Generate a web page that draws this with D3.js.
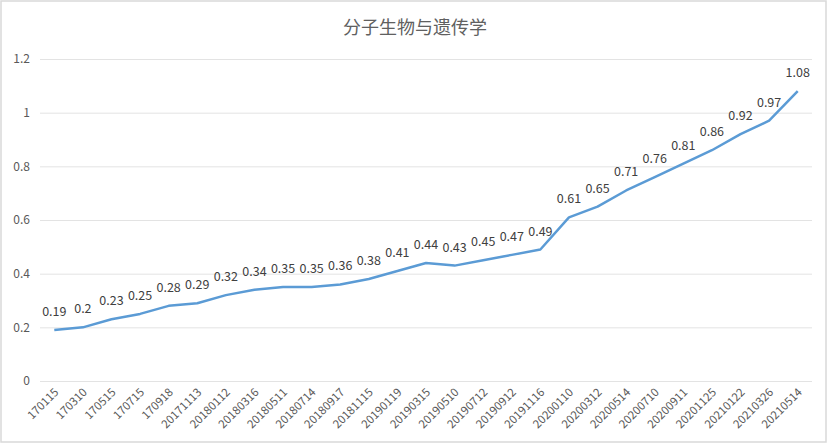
<!DOCTYPE html>
<html><head><meta charset="utf-8">
<script src="https://cdn.jsdelivr.net/npm/d3@7"></script>
<style>body{margin:0;background:#fff}svg{display:block}text{font-family:"Noto Sans CJK SC","Liberation Sans",sans-serif}</style>
</head><body>
<svg id="c" width="828" height="443"></svg>
<script>
const categories = ["170115","170310","170515","170715","170918","20171113","20180112","20180316","20180511","20180714","20180917","20181115","20190119","20190315","20190510","20190712","20190912","20191116","20200110","20200312","20200514","20200710","20200911","20201125","20210122","20210326","20210514"];
const values = [0.19,0.2,0.23,0.25,0.28,0.29,0.32,0.34,0.35,0.35,0.36,0.38,0.41,0.44,0.43,0.45,0.47,0.49,0.61,0.65,0.71,0.76,0.81,0.86,0.92,0.97,1.08];
const yTicks = [0,0.2,0.4,0.6,0.8,1,1.2];
const title = "分子生物与遗传学";

const svg = d3.select("#c");
svg.append("rect").attr("x",1).attr("y",1).attr("width",825).attr("height",441).attr("fill","#fff").attr("stroke","#d9d9d9").attr("stroke-width",1.5);

const x = d3.scaleBand().domain(categories).range([40,812]);
const y = d3.scaleLinear().domain([0,1.2]).range([381,59]);

svg.append("text").attr("x",415).attr("y",34).attr("text-anchor","middle").attr("font-size",18).attr("fill","#606060").text(title);

const yAxis = svg.append("g").attr("transform","translate(40,0)")
  .call(d3.axisLeft(y).tickValues(yTicks).tickFormat(d=>String(d)).tickSize(-772).tickPadding(10));
yAxis.select(".domain").remove();
yAxis.selectAll("line").attr("stroke","#e3e3e3").attr("stroke-width",1);
yAxis.selectAll("text").attr("font-size",12).attr("fill","#595959");

const xAxis = svg.append("g").attr("transform","translate(0,381)")
  .call(d3.axisBottom(x).tickSize(0).tickPadding(0));
xAxis.select(".domain").remove();
xAxis.selectAll("text").attr("font-size",11.5).attr("fill","#595959")
  .attr("text-anchor","end").attr("dy",0)
  .attr("transform","translate(5,12) rotate(-45)");

const cx = d => x(d) + x.bandwidth()/2;
const line = d3.line().x((d,i)=>cx(categories[i])).y(d=>y(d));
svg.append("path").datum(values).attr("d",line).attr("fill","none").attr("stroke","#5b9bd5").attr("stroke-width",2.5).attr("stroke-linejoin","round");

svg.append("g").selectAll("text").data(values).join("text")
  .attr("x",(d,i)=>cx(categories[i])).attr("y",d=>y(d)-14)
  .attr("text-anchor","middle").attr("font-size",12.5).attr("fill","#404040")
  .text(d=>String(d));
</script>
</body></html>
